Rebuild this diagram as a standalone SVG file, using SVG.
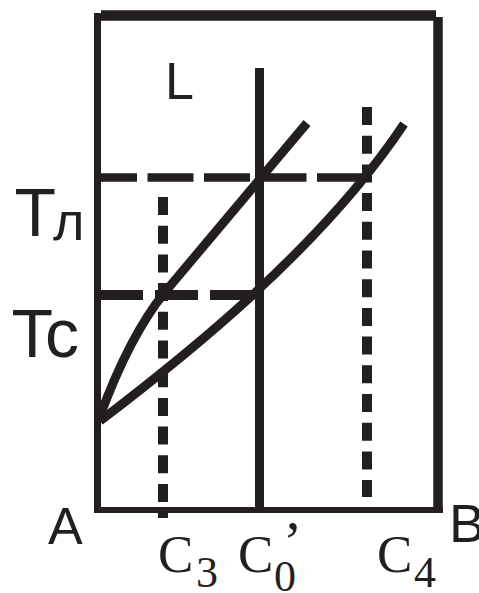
<svg xmlns="http://www.w3.org/2000/svg" width="479" height="593" viewBox="0 0 479 593">
<style>
.ln{fill:none;stroke:#231f20;stroke-linecap:butt}
.sans{font-family:"Liberation Sans",Arial,sans-serif;fill:#231f20}
.serif{font-family:"Liberation Serif","Times New Roman",serif;fill:#231f20}
</style>
<rect width="479" height="593" fill="#fff"/>
<g id="frame">
<path class="ln" d="M97.5,13V513" stroke-width="7"/>
<path class="ln" d="M101,15.5H436" stroke-width="10.5"/>
<path class="ln" d="M438,17V513" stroke-width="9.5"/>
<path class="ln" d="M97,510H443" stroke-width="6"/>
</g>
<g id="connectors">
<path id="c0-line" class="ln" d="M259.5,68V510" stroke-width="9"/>
<path id="c3-line" class="ln" d="M163,197V518" stroke-width="10" stroke-dasharray="18 10.7"/>
<path id="c4-line" class="ln" d="M367,107V497" stroke-width="10" stroke-dasharray="18 10.7"/>
<path id="tl-line" class="ln" d="M100,177.5H372" stroke-width="8.5" stroke-dasharray="46 10.5" stroke-dashoffset="9"/>
<path id="tc-line" class="ln" d="M100,295H259" stroke-width="10" stroke-dasharray="43 12"/>
<path id="liquidus" class="ln" d="M100,416Q130,335 165,292L307,123" stroke-width="9"/>
<path id="solidus" class="ln" d="M100,421C180,360 320,250 404,124" stroke-width="9"/>
</g>
<g id="label-L"><text class="sans" x="165" y="99" font-size="52">L</text></g>
<g id="label-A"><text class="sans" x="48" y="544" font-size="52">A</text></g>
<g id="label-B"><text class="sans" x="449" y="542" font-size="54">B</text></g>
<g id="label-Tl"><text class="sans" y="236" font-size="68"><tspan x="14.5">T</tspan><tspan x="53" y="240" font-size="54">л</tspan></text></g>
<g id="label-Tc"><text class="sans" y="357" font-size="68"><tspan x="11.5">T</tspan><tspan x="45">c</tspan></text></g>
<g id="label-C3"><text class="serif" y="572" font-size="53"><tspan x="158">C</tspan><tspan x="196" y="587" font-size="44">3</tspan></text></g>
<g id="label-C0"><text class="serif" y="572" font-size="53"><tspan x="238">C</tspan><tspan x="274" y="591" font-size="44">0</tspan><tspan x="283" y="561" font-size="58">’</tspan></text></g>
<g id="label-C4"><text class="serif" y="572" font-size="53"><tspan x="377">C</tspan><tspan x="414" y="587" font-size="44">4</tspan></text></g>
</svg>
